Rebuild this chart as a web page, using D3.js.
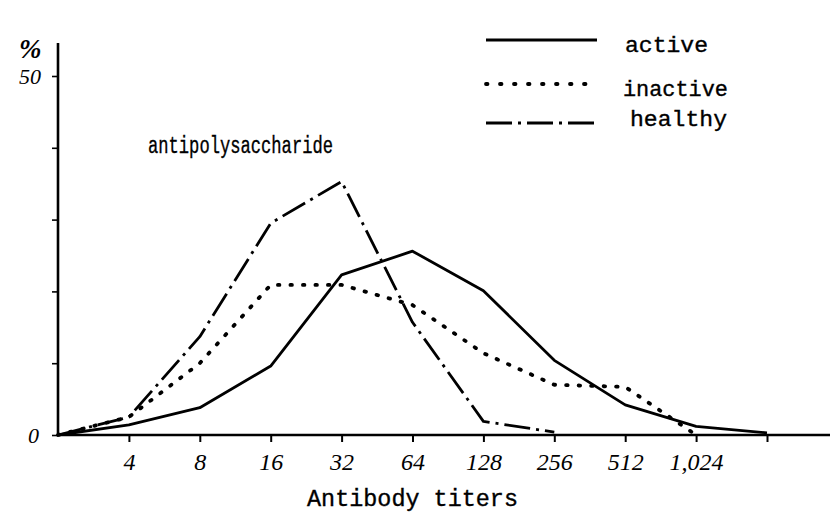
<!DOCTYPE html>
<html>
<head>
<meta charset="utf-8">
<script src="https://cdn.jsdelivr.net/npm/d3@7"></script>
<style>
  body { margin: 0; background: #fff; }
  svg { display: block; }
  .mono { font-family: "Liberation Mono", "DejaVu Sans Mono", monospace; fill: #000; stroke: #000; stroke-width: 0.35px; }
  .hand { font-family: "Liberation Serif", "DejaVu Serif", serif; font-style: italic; fill: #000; }
</style>
</head>
<body>
<div id="chart"></div>
<script>
// titers along the x axis (log2 spaced), first point is the origin
var titers = [2, 4, 8, 16, 32, 64, 128, 256, 512, 1024, 2048];
var tickLabels = ["", "4", "8", "16", "32", "64", "128", "256", "512", "1,024", ""];

// percent of sera per titer
var active   = [0, 1.4, 3.8, 9.6, 22.3, 25.6, 20.1, 10.4, 4.2, 1.2, 0.3];
var inactive = [0, 2.5, 10.0, 20.9, 20.9, 18.1, 11.4, 7.0, 6.7, 0];
var healthy  = [0, 2.5, 13.7, 29.5, 35.3, 15.7, 1.9, 0.4];

var yTicks = [0, 10, 20, 30, 40, 50];
var seriesNames = ["active", "inactive", "healthy"];

var width = 830, height = 518;

var svg = d3.select("#chart").append("svg")
    .attr("width", width).attr("height", height);

var x = d3.scaleLog().base(2).domain([2, 2048]).range([58, 767]);
var y = d3.scaleLinear().domain([0, 50]).range([435, 76]);

// dash styles, typed to look like the typewritten original
var dash = {
    active: null,
    inactive: "1.5,11",
    healthy: "26,6,3,6"
};
var legendDash = {
    active: null,
    inactive: "1.5,12.5",
    healthy: "26,6,3,6"
};

// axes: draw the long baselines by hand, ticks come from d3
svg.append("line")
    .attr("x1", 58).attr("x2", 830)
    .attr("y1", y(0)).attr("y2", y(0))
    .attr("stroke", "#000").attr("stroke-width", 2.6);
svg.append("line")
    .attr("x1", 58).attr("x2", 58)
    .attr("y1", y(0) + 1).attr("y2", 43)
    .attr("stroke", "#000").attr("stroke-width", 2.6);

var xAxis = d3.axisBottom(x)
    .tickValues(titers.slice(1))
    .tickSize(7)
    .tickFormat(function(d) { return tickLabels[titers.indexOf(d)]; });

var gx = svg.append("g")
    .attr("transform", "translate(0," + y(0) + ")")
    .call(xAxis);
gx.select(".domain").remove();
gx.selectAll(".tick line").attr("stroke", "#000").attr("stroke-width", 2);
gx.selectAll(".tick text")
    .attr("class", "hand")
    .attr("y", 18)
    .style("font-size", "24px");

var yAxis = d3.axisLeft(y)
    .tickValues(yTicks)
    .tickSize(6)
    .tickFormat(function(d) { return (d === 0 || d === 50) ? d : ""; });

var gy = svg.append("g")
    .attr("transform", "translate(58,0)")
    .call(yAxis);
gy.select(".domain").remove();
gy.selectAll(".tick line").attr("stroke", "#000").attr("stroke-width", 1.6);
gy.selectAll(".tick text")
    .attr("class", "hand")
    .attr("x", function(d) { return d === 0 ? -19 : -17; })
    .style("font-size", "22px");

svg.append("text")
    .attr("class", "hand")
    .attr("x", 19).attr("y", 58)
    .style("font-size", "27px")
    .style("font-weight", "bold")
    .text("%");

// series lines
var line = d3.line()
    .x(function(d, i) { return x(titers[i]); })
    .y(function(d) { return y(d); });

var data = { active: active, inactive: inactive, healthy: healthy };

seriesNames.forEach(function(name) {
    svg.append("path")
        .datum(data[name])
        .attr("d", line)
        .attr("fill", "none")
        .attr("stroke", "#000")
        .attr("stroke-width", name === "inactive" ? 3.8 : 2.8)
        .attr("stroke-linecap", name === "inactive" ? "round" : "butt")
        .attr("stroke-linejoin", "round")
        .attr("stroke-dasharray", dash[name]);
});

// legend
var legend = [
    { name: "active",   ly: 40,  ty: 52,  tx: 625, tw: 83 },
    { name: "inactive", ly: 84,  ty: 96,  tx: 623, tw: 105 },
    { name: "healthy",  ly: 123, ty: 126, tx: 630, tw: 97 }
];

legend.forEach(function(l) {
    svg.append("line")
        .attr("x1", 486).attr("x2", 597)
        .attr("y1", l.ly).attr("y2", l.ly)
        .attr("stroke", "#000")
        .attr("stroke-width", l.name === "inactive" ? 3.8 : 2.8)
        .attr("stroke-linecap", l.name === "inactive" ? "round" : "butt")
        .attr("stroke-dasharray", legendDash[l.name]);
    svg.append("text")
        .attr("class", "mono")
        .attr("x", l.tx).attr("y", l.ty)
        .attr("textLength", l.tw)
        .attr("lengthAdjust", "spacingAndGlyphs")
        .style("font-size", "22px")
        .text(l.name);
});

svg.append("text")
    .attr("class", "mono")
    .attr("x", 148).attr("y", 153)
    .attr("textLength", 185)
    .attr("lengthAdjust", "spacingAndGlyphs")
    .style("font-size", "23px")
    .text("antipolysaccharide");

svg.append("text")
    .attr("class", "mono")
    .attr("x", 307).attr("y", 506)
    .attr("textLength", 211)
    .attr("lengthAdjust", "spacingAndGlyphs")
    .style("font-size", "23px")
    .text("Antibody titers");
</script>
</body>
</html>
